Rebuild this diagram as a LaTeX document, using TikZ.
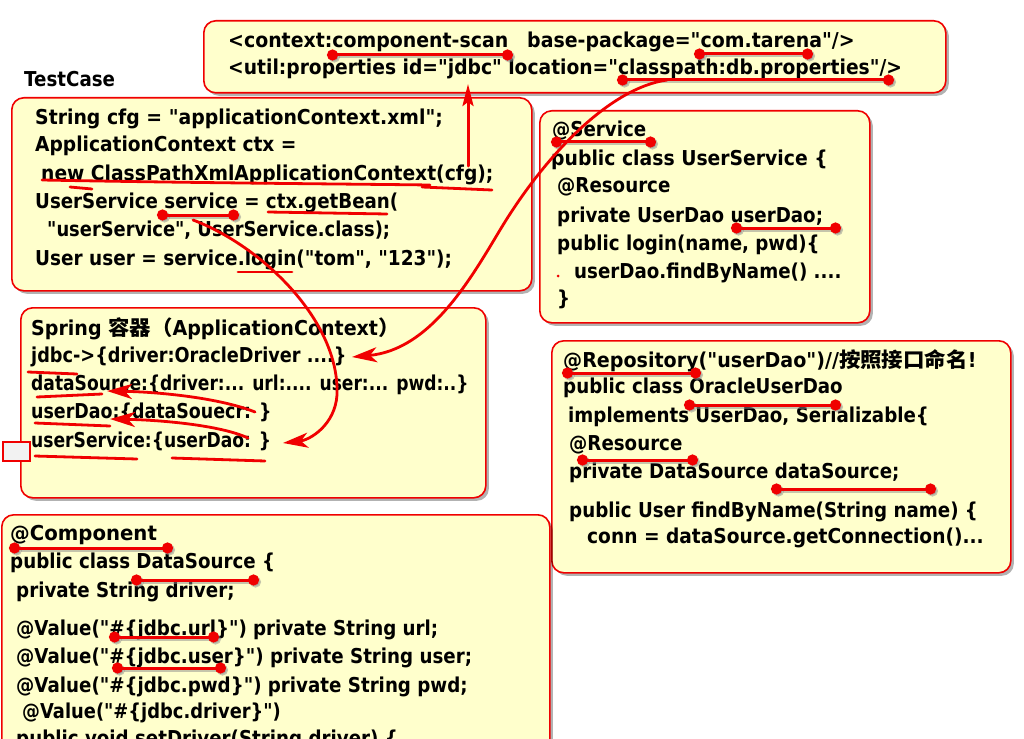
\documentclass[tikz,border=0pt]{standalone}
\usepackage{fontspec}
\usepackage{graphicx}
\setmainfont{DejaVu Sans}[FakeStretch=0.89, Ligatures=TeXOff]
\newfontfamily\cjk{Noto Sans CJK SC}
\usetikzlibrary{arrows.meta,shadows}
\definecolor{boxfill}{RGB}{255,255,204}
\definecolor{mred}{RGB}{240,0,0}
\tikzset{
  box/.style={draw=mred, line width=1.6pt, fill=boxfill, rounded corners=12pt,
    drop shadow={shadow xshift=3pt, shadow yshift=-3pt, fill=black, opacity=.3},
    anchor=north west, inner sep=0pt},
  t/.style={anchor=base west, inner sep=0pt, font=\bfseries\fontsize{20.5}{20.5}\selectfont},
  pen/.style={draw=mred, line width=2.8pt, line cap=round},
  dumbl/.style={pen, line width=3pt, {Circle[length=11pt,width=11pt]}-{Circle[length=11pt,width=11pt]}},
  dumbsh/.style={draw=black!45, opacity=.5, line width=3pt, {Circle[length=11pt,width=11pt]}-{Circle[length=11pt,width=11pt]}},
  redarrow/.style={pen, -{Stealth[length=25pt,width=15pt,inset=7pt]}},
}
\newcommand\dmb[3]{\draw[dumbsh] (#1-4,#3+2) -- (#2+8,#3+2); \draw[dumbl] (#1-6,#3) -- (#2+6,#3);}
\newcommand\sx[2]{\scalebox{#1}[1]{#2}}
\begin{document}
\begin{tikzpicture}[x=1pt,y=-1pt]
\useasboundingbox (0,0) rectangle (1024,738);
\fill[white] (0,0) rectangle (1024,738);
% boxes
\node[box, minimum width=742pt, minimum height=72pt] (xmlbox) at (203,20) {};
\node[box, minimum width=520pt, minimum height=193pt] (tcbox) at (11,97) {};
\node[box, minimum width=330pt, minimum height=212pt] (svbox) at (539,110) {};
\node[box, minimum width=465pt, minimum height=190pt] (ctbox) at (20,307) {};
\node[box, minimum width=459pt, minimum height=232pt] (rpbox) at (551,340) {};
\node[box, minimum width=548pt, minimum height=260pt] (cpbox) at (1,514) {};
% xml
\node[t] (x1) at (228,48) {\sx{1.037}{<context:component-scan}};
\node[t] (x2) at (527,48) {\sx{1.038}{base-package="com.tarena"/>}};
\node[t] (x3) at (228,75) {\sx{1.024}{<util:properties id="jdbc" location="classpath:db.properties"/>}};
% testcase
\node[t] (tclabel) at (24,87) {TestCase};
\node[t] (tc1) at (35,125) {\sx{1.033}{String cfg = "applicationContext.xml";}};
\node[t] (tc2) at (35,152) {\sx{1.02}{ApplicationContext ctx =}};
\node[t] (tc3) at (41,180) {\sx{1.025}{new ClassPathXmlApplicationContext(cfg);}};
\node[t] (tc4) at (35,208) {UserService service = ctx.getBean(};
\node[t] (tc5) at (47,236) {\sx{0.98}{"userService", UserService.class);}};
\node[t] (tc6) at (35,265) {\sx{1.012}{User user = service.login("tom", "123");}};
% service
\node[t] (s1) at (552,137) {@Service};
\node[t] (s2) at (551,165) {\sx{1.03}{public class UserService \{}};
\node[t] (s3) at (557,193) {@Resource};
\node[t] (s4) at (557,222) {private UserDao userDao;};
\node[t] (s5) at (557,250) {public login(name, pwd)\{};
\node[t] (s6) at (574,278) {userDao.findByName() ....};
\node[t] (s7) at (557,305) {\}};
% container
\node[t] (c1) at (31,335) {\sx{1.044}{Spring {\cjk\bfseries 容器（}ApplicationContext{\cjk\bfseries ）}}};
\node[t] (c2) at (31,362) {\sx{0.97}{jdbc->\{driver:OracleDriver ....\}}};
\node[t] (c3) at (31,390) {\sx{0.938}{dataSource:\{driver:... url:.... user:... pwd:..\}}};
\node[t] (c4) at (31,418) {\sx{0.956}{userDao:\{dataSouecr: \}}};
\node[t] (c5) at (31,447) {\sx{0.94}{userService:\{userDao: \}}};
% repository
\node[t] (r1) at (563,367) {\sx{1.046}{@Repository("userDao")//{\cjk\bfseries 按照接口命名}!}};
\node[t] (r2) at (563,393) {public class OracleUserDao};
\node[t] (r3) at (568,422) {implements UserDao, Serializable\{};
\node[t] (r4) at (569,450) {@Resource};
\node[t] (r5) at (569,478) {private DataSource dataSource;};
\node[t] (r6) at (569,517) {public User findByName(String name) \{};
\node[t] (r7) at (587,543) {\sx{1.02}{conn = dataSource.getConnection()...}};
% component
\node[t] (d1) at (10,540) {\sx{1.08}{@Component}};
\node[t] (d2) at (10,568) {public class DataSource \{};
\node[t] (d3) at (16,597) {private String driver;};
\node[t] (d4) at (16,635) {@Value("\#\{jdbc.url\}") private String url;};
\node[t] (d5) at (16,663) {@Value("\#\{jdbc.user\}") private String user;};
\node[t] (d6) at (16,692) {@Value("\#\{jdbc.pwd\}") private String pwd;};
\node[t] (d7) at (22,718) {\sx{0.98}{@Value("\#\{jdbc.driver\}")}};
\node[t] (d8) at (16,745) {public void setDriver(String driver) \{};
% dumbbell underlines
\dmb{333}{507}{55}
\dmb{700}{807}{54}
\dmb{623}{888}{80}
\dmb{163}{233}{215}
\dmb{557}{650}{142}
\dmb{737}{835}{228}
\dmb{568}{695}{373}
\dmb{690}{835}{405}
\dmb{583}{692}{460}
\dmb{777}{930}{489}
\dmb{15}{167}{548}
\dmb{137}{253}{580}
\dmb{115}{213}{637}
\dmb{118}{220}{668}
% freehand underlines
\draw[pen] (42,180) .. controls (200,183) and (350,184) .. (430,185);
\draw[pen] (70,187) -- (92,189);
\draw[pen] (422,187) -- (492,190);
\draw[pen] (268,212) -- (387,214);
\draw[pen] (238,272) -- (292,272);
\draw[pen] (28,372) -- (77,374);
\draw[pen] (37,397) -- (102,394);
\draw[pen] (35,423) -- (110,426);
\draw[pen] (35,456) -- (137,459);
\draw[pen] (172,458) -- (265,461);
\fill[mred] (558,276) circle (1.5);
\draw[mred, line width=1.8pt, fill=white!90!gray] (3,442) rectangle (30,461);
% arrows
\coordinate (cfgS) at (468,166);
\coordinate (cfgE) at (468,84);
\draw[redarrow, line width=3pt, -{Stealth[length=22pt,width=11pt,inset=4pt]}] (cfgS) -- (cfgE);
\coordinate (cpS) at (667,80);
\coordinate (jdE) at (352,357);
\draw[redarrow] (cpS) .. controls (610,88) and (545,155) .. (500,230) .. controls (470,280) and (430,350) .. (jdE);
\coordinate (svS) at (193,220);
\coordinate (usE) at (283,443);
\draw[redarrow] (svS) .. controls (260,245) and (340,320) .. (337,395) .. controls (335,425) and (310,440) .. (usE);
\coordinate (a1S) at (255,412);
\coordinate (a1E) at (107,391);
\draw[redarrow] (a1S) .. controls (220,398) and (160,392) .. (a1E);
\coordinate (a2S) at (248,438);
\coordinate (a2E) at (110,419);
\draw[redarrow] (a2S) .. controls (220,425) and (160,420) .. (a2E);
\end{tikzpicture}
\end{document}
